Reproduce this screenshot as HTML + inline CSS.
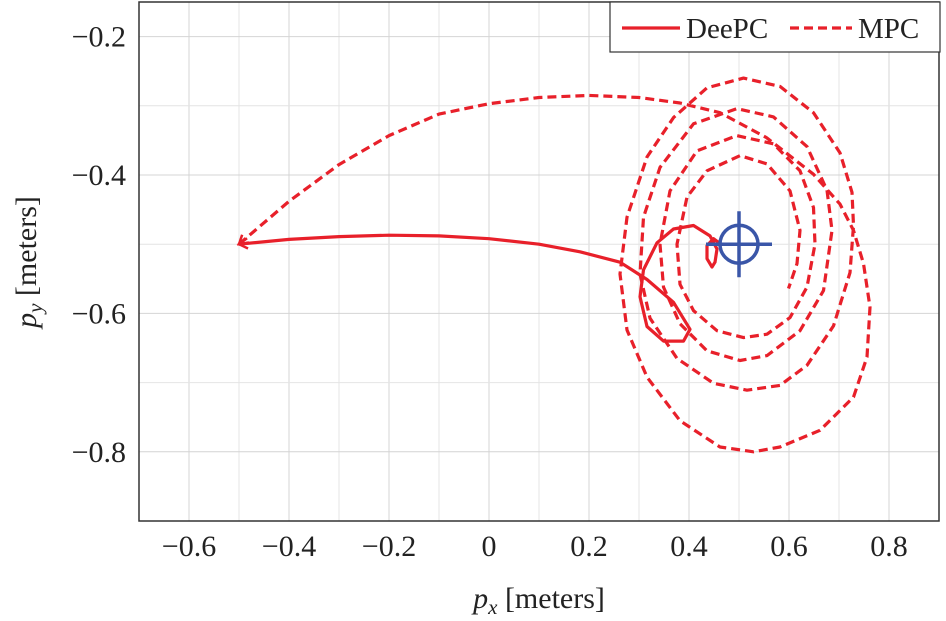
<!DOCTYPE html>
<html><head><meta charset="utf-8"><style>
body{margin:0;background:#fff}
svg{display:block;font-family:"Liberation Serif",serif}
</style></head><body>
<svg id="chart" width="946" height="621" viewBox="0 0 946 621">
<g id="grid"></g>
<g id="series"></g>
<g id="axes"></g>
<text x="539" y="608" text-anchor="middle" font-size="30" fill="#222"><tspan font-style="italic">p</tspan><tspan font-style="italic" font-size="21" dy="6">x</tspan><tspan dy="-6"> [meters]</tspan></text>
<text transform="translate(36,262) rotate(-90)" text-anchor="middle" font-size="30" fill="#222"><tspan font-style="italic">p</tspan><tspan font-style="italic" font-size="21" dy="6">y</tspan><tspan dy="-6"> [meters]</tspan></text>
<g>
<rect x="610" y="2" width="330" height="50" fill="#fff" stroke="#333" stroke-width="1.2"/>
<line x1="622" y1="28" x2="680" y2="28" stroke="#e8202a" stroke-width="3.2"/>
<text x="686" y="38" font-size="29" fill="#222">DeePC</text>
<line x1="790" y1="28" x2="852" y2="28" stroke="#e8202a" stroke-width="3.2" stroke-dasharray="9,5"/>
<text x="858" y="38" font-size="29" fill="#222">MPC</text>
</g>
</svg>
<script>
const xTicks=[-0.6,-0.4,-0.2,0,0.2,0.4,0.6,0.8];
const xTickLabels=["\u22120.6","\u22120.4","\u22120.2","0","0.2","0.4","0.6","0.8"];
const yTicks=[-0.2,-0.4,-0.6,-0.8];
const yTickLabels=["\u22120.2","\u22120.4","\u22120.6","\u22120.8"];
const target=[0.5,-0.5];
const deepcX=[-0.5,-0.4,-0.3,-0.2,-0.1,0,0.1,0.182,0.262,0.316,0.369,0.402,0.389,0.349,0.316,0.302,0.309,0.336,0.369,0.409,0.442,0.456,0.452,0.446,0.436,0.436,0.449,0.462];
const deepcY=[-0.5,-0.493,-0.489,-0.487,-0.488,-0.492,-0.5,-0.511,-0.526,-0.551,-0.584,-0.623,-0.64,-0.64,-0.619,-0.576,-0.537,-0.498,-0.478,-0.473,-0.488,-0.507,-0.526,-0.533,-0.521,-0.502,-0.492,-0.499];
const mpcX=[-0.5,-0.4,-0.3,-0.2,-0.1,0,0.1,0.2,0.3,0.382,0.462,0.555,0.649,0.702,0.729,0.749,0.762,0.756,0.729,0.662,0.582,0.529,0.462,0.382,0.316,0.276,0.262,0.276,0.316,0.369,0.436,0.509,0.582,0.649,0.702,0.726,0.729,0.722,0.689,0.636,0.582,0.516,0.449,0.376,0.322,0.302,0.309,0.342,0.409,0.496,0.569,0.636,0.676,0.686,0.669,0.622,0.556,0.502,0.436,0.382,0.349,0.342,0.362,0.416,0.496,0.569,0.622,0.649,0.652,0.636,0.602,0.556,0.509,0.456,0.409,0.382,0.376,0.396,0.436,0.502,0.556,0.602,0.622,0.616,0.599];
const mpcY=[-0.5,-0.438,-0.385,-0.343,-0.312,-0.297,-0.288,-0.285,-0.288,-0.296,-0.31,-0.346,-0.399,-0.442,-0.48,-0.528,-0.591,-0.663,-0.721,-0.769,-0.793,-0.8,-0.793,-0.755,-0.692,-0.624,-0.543,-0.461,-0.374,-0.317,-0.274,-0.26,-0.272,-0.31,-0.368,-0.425,-0.473,-0.541,-0.618,-0.675,-0.704,-0.711,-0.701,-0.665,-0.607,-0.543,-0.461,-0.389,-0.326,-0.304,-0.316,-0.359,-0.422,-0.48,-0.567,-0.625,-0.661,-0.668,-0.654,-0.615,-0.562,-0.5,-0.423,-0.365,-0.343,-0.355,-0.394,-0.447,-0.5,-0.562,-0.606,-0.63,-0.635,-0.625,-0.596,-0.558,-0.5,-0.432,-0.394,-0.372,-0.384,-0.423,-0.48,-0.528,-0.564];

const NS="http://www.w3.org/2000/svg";
const L=139,R=939,T=2,B=521,X0=-0.7,X1=0.9,Y0=-0.9,Y1=-0.15;
const sx=v=>L+(v-X0)/(X1-X0)*(R-L);
const sy=v=>B-(v-Y0)/(Y1-Y0)*(B-T);
function mk(tag,parent,attrs){const e=document.createElementNS(NS,tag);for(const k in attrs)e.setAttribute(k,attrs[k]);parent.appendChild(e);return e;}
const grid=document.getElementById('grid'),axes=document.getElementById('axes'),ser=document.getElementById('series');
for(let i=-6;i<=8;i++){const v=i/10;const x=sx(v);
 const g=mk('line',grid,{x1:x,x2:x,y1:T,y2:B,stroke:i%2===0?'#d4d4d4':'#e4e4e4','stroke-width':1});
 
 }
for(let i=-8;i<=-2;i++){const v=i/10;const y=sy(v);
 const g=mk('line',grid,{x1:L,x2:R,y1:y,y2:y,stroke:i%2===0?'#d4d4d4':'#e4e4e4','stroke-width':1});
 
 }
const frame=mk('rect',axes,{x:L,y:T,width:R-L,height:B-T,fill:'none',stroke:'#333','stroke-width':1.5});


xTicks.forEach((v,i)=>{const t=mk('text',axes,{x:sx(v),y:556,'text-anchor':'middle','font-size':30,fill:'#222'});t.textContent=xTickLabels[i];
 
 });
yTicks.forEach((v,i)=>{const t=mk('text',axes,{x:126,y:sy(v)+10,'text-anchor':'end','font-size':30,fill:'#222'});t.textContent=yTickLabels[i];
 
 });
function pathD(xs,ys){return xs.map((x,i)=>(i?'L':'M')+sx(x).toFixed(1)+','+sy(ys[i]).toFixed(1)).join(' ');}
const mp=mk('path',ser,{d:pathD(mpcX,mpcY),fill:'none',stroke:'#e8202a','stroke-width':3.2,'stroke-dasharray':'9,5','stroke-linejoin':'round'});


const dp=mk('path',ser,{d:pathD(deepcX,deepcY),fill:'none',stroke:'#e8202a','stroke-width':3.2,'stroke-linejoin':'round'});


// arrowheads at start
[[mpcX,mpcY],[deepcX,deepcY]].forEach(([xs,ys])=>{const x0=sx(xs[0]),y0=sy(ys[0]),x1=sx(xs[1]),y1=sy(ys[1]);
 const a=Math.atan2(y0-y1,x0-x1),l=10;
 const p=mk('path',ser,{d:`M${x0+l*Math.cos(a+2.6)},${y0+l*Math.sin(a+2.6)} L${x0},${y0} L${x0+l*Math.cos(a-2.6)},${y0+l*Math.sin(a-2.6)}`,fill:'none',stroke:'#e8202a','stroke-width':2.5});
 
 });
const tx=sx(target[0]),ty=sy(target[1]);
const tc=mk('circle',ser,{cx:tx,cy:ty,r:19,fill:'none',stroke:'#3a56a8','stroke-width':3.5});


const th=mk('line',ser,{x1:tx-33,x2:tx+33,y1:ty,y2:ty,stroke:'#3a56a8','stroke-width':3.5});


const tv=mk('line',ser,{x1:tx,x2:tx,y1:ty-33,y2:ty+33,stroke:'#3a56a8','stroke-width':3.5});


</script>
</body></html>
